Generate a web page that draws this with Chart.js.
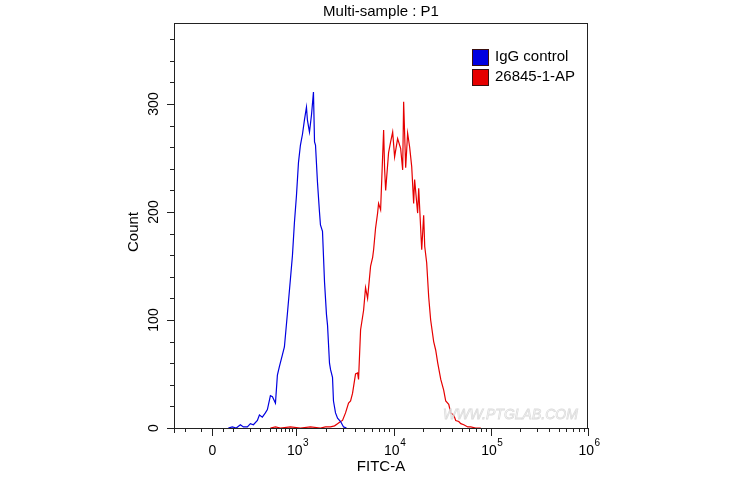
<!DOCTYPE html>
<html>
<head>
<meta charset="utf-8">
<script src="https://cdn.jsdelivr.net/npm/chart.js@4"></script>
<style>
  html, body { margin: 0; padding: 0; background: #fff; }
  #wrap { width: 730px; height: 478px; }
</style>
</head>
<body>
<div id="wrap"><canvas id="flow"></canvas></div>
<script>
// x values are display positions in decades (10^3 -> 3, 10^4 -> 4 ...); "0" sits at 2.134 on the biexponential part
var igPos = [2.299, 2.340, 2.381, 2.423, 2.454, 2.495, 2.526, 2.557, 2.598, 2.619, 2.649, 2.680, 2.701, 2.732,
  2.753, 2.784, 2.804, 2.825, 2.856, 2.876, 2.907, 2.938, 2.959, 2.979, 3.000, 3.021, 3.041, 3.062, 3.082,
  3.103, 3.113, 3.134, 3.155, 3.175, 3.186, 3.196, 3.216, 3.237, 3.247, 3.268, 3.289, 3.309, 3.320, 3.340,
  3.351, 3.371, 3.381, 3.402, 3.423, 3.454, 3.485, 3.515];
var igCount = [0, 1, 0, 3, 1, 1, 4, 3, 7, 12, 10, 14, 17, 30,
  29, 23, 49, 57, 68, 75, 106, 138, 160, 190, 215, 246, 262, 272, 285,
  297, 285, 274, 290, 311, 265, 262, 228, 200, 188, 182, 135, 105, 95, 60,
  54, 47, 25, 14, 9, 6, 1, 0];

var apPos = [2.732, 2.784, 2.835, 2.938, 3.041, 3.144, 3.247, 3.299, 3.351, 3.392, 3.423, 3.454, 3.474, 3.505,
  3.536, 3.557, 3.577, 3.608, 3.629, 3.639, 3.660, 3.691, 3.711, 3.732, 3.763, 3.784, 3.794, 3.814, 3.835,
  3.845, 3.866, 3.897, 3.907, 3.918, 3.948, 3.969, 3.990, 4.010, 4.041, 4.072, 4.093, 4.103, 4.124, 4.144,
  4.165, 4.186, 4.206, 4.216, 4.247, 4.258, 4.289, 4.309, 4.320, 4.340, 4.361, 4.381, 4.412, 4.433, 4.454,
  4.485, 4.515, 4.536, 4.567, 4.588, 4.619, 4.639, 4.670, 4.691, 4.722, 4.763, 4.794, 4.845, 4.897];
var apCount = [0, 1, 0, 1, 0, 1, 0, 1, 1, 2, 4, 6, 7, 14,
  23, 25, 32, 50, 51, 45, 91, 109, 130, 120, 150, 158, 165, 185, 199,
  208, 202, 276, 240, 220, 255, 265, 274, 251, 268, 259, 239, 302, 241, 273,
  260, 242, 208, 230, 199, 222, 165, 197, 168, 153, 121, 100, 80, 72, 60,
  45, 35, 25, 22, 14, 12, 7, 6, 4, 3, 1, 1, 0, 0];

var seriesNames = ['IgG control', '26845-1-AP'];
var seriesColors = ['#0000e0', '#e60000'];

var xMajorPos = [2.134, 3, 4, 5, 6];
var xMajorText = [['0', ''], ['10', '3'], ['10', '4'], ['10', '5'], ['10', '6']];
var xMinorLow = [1.856, 2.021, 2.247, 2.351, 2.526, 2.629, 2.732, 2.794, 2.845, 2.887, 2.928, 2.959];
var yMajor = [0, 100, 200, 300];
var yMinorStep = 20;

function toPoints(xs, ys) {
  return xs.map(function (x, i) { return { x: x, y: ys[i] }; });
}

var FONT = '"Liberation Sans", Arial, sans-serif';

var flowDecor = {
  id: 'flowDecor',
  afterDraw: function (chart) {
    var ctx = chart.ctx, a = chart.chartArea;
    var xs = chart.scales.x, ys = chart.scales.y;
    ctx.save();

    // watermark
    ctx.font = 'italic 14px ' + FONT;
    ctx.strokeStyle = '#dcdcdc';
    ctx.lineWidth = 0.8;
    ctx.textAlign = 'left';
    ctx.textBaseline = 'alphabetic';
    ctx.strokeText('WWW.PTGLAB.COM', 443, 419);

    // frame
    ctx.strokeStyle = '#222';
    ctx.lineWidth = 1;
    ctx.strokeRect(a.left + 0.5, a.top + 0.5, a.right - a.left - 1, a.bottom - a.top);

    // y ticks
    ctx.beginPath();
    for (var v = 0; v <= ys.max; v += yMinorStep) {
      var py = Math.round(ys.getPixelForValue(v)) + 0.5;
      var len = yMajor.indexOf(v) >= 0 ? 7 : 4;
      ctx.moveTo(a.left, py);
      ctx.lineTo(a.left - len, py);
    }
    // x ticks
    var minors = xMinorLow.slice();
    for (var k = 3; k < 6; k++)
      for (var m = 2; m <= 9; m++) minors.push(k + Math.log10(m));
    minors.forEach(function (d) {
      var px = Math.round(xs.getPixelForValue(d)) + 0.5;
      ctx.moveTo(px, a.bottom); ctx.lineTo(px, a.bottom + 4);
    });
    xMajorPos.forEach(function (d) {
      var px = Math.round(xs.getPixelForValue(d)) + 0.5;
      ctx.moveTo(px, a.bottom); ctx.lineTo(px, a.bottom + 8);
    });
    ctx.moveTo(a.left + 0.5, a.bottom); ctx.lineTo(a.left + 0.5, a.bottom + 5);
    ctx.stroke();

    ctx.fillStyle = '#000';
    // y tick labels (rotated)
    ctx.font = '14px ' + FONT;
    ctx.textAlign = 'center';
    ctx.textBaseline = 'middle';
    yMajor.forEach(function (v) {
      ctx.save();
      ctx.translate(154, ys.getPixelForValue(v));
      ctx.rotate(-Math.PI / 2);
      ctx.fillText(String(v), 0, 0);
      ctx.restore();
    });

    // x tick labels with superscripts
    xMajorPos.forEach(function (d, i) {
      var px = xs.getPixelForValue(d);
      var base = xMajorText[i][0], sup = xMajorText[i][1];
      ctx.font = '14px ' + FONT;
      var wb = ctx.measureText(base).width;
      ctx.font = '10px ' + FONT;
      var ws = sup ? ctx.measureText(sup).width : 0;
      var x0 = px - (wb + ws) / 2 + (sup ? 1 : 0);
      ctx.textAlign = 'left';
      ctx.textBaseline = 'alphabetic';
      ctx.font = '14px ' + FONT;
      ctx.fillText(base, x0, 455);
      if (sup) {
        ctx.font = '10px ' + FONT;
        ctx.fillText(sup, x0 + wb + 0.5, 446);
      }
    });

    // axis titles and title
    ctx.font = '15px ' + FONT;
    ctx.textAlign = 'center';
    ctx.textBaseline = 'middle';
    ctx.fillText('FITC-A', (a.left + a.right) / 2, 467);
    ctx.fillText('Multi-sample : P1', (a.left + a.right) / 2, 12);
    ctx.save();
    ctx.translate(134, 232);
    ctx.rotate(-Math.PI / 2);
    ctx.fillText('Count', 0, 0);
    ctx.restore();

    // legend
    ctx.textAlign = 'left';
    ctx.textBaseline = 'middle';
    ctx.font = '15px ' + FONT;
    seriesNames.forEach(function (name, i) {
      var y0 = 49 + i * 20;
      ctx.fillStyle = seriesColors[i];
      ctx.fillRect(472, y0, 16, 16);
      ctx.strokeStyle = '#3a1010';
      ctx.strokeRect(472.5, y0 + 0.5, 16, 16);
      ctx.fillStyle = '#000';
      ctx.fillText(name, 495, y0 + 8);
    });
    ctx.restore();
  }
};

new Chart(document.getElementById('flow'), {
  type: 'line',
  data: {
    datasets: [
      { label: seriesNames[0], data: toPoints(igPos, igCount), borderColor: seriesColors[0], borderWidth: 1.2, pointRadius: 0, tension: 0 },
      { label: seriesNames[1], data: toPoints(apPos, apCount), borderColor: seriesColors[1], borderWidth: 1.2, pointRadius: 0, tension: 0 }
    ]
  },
  options: {
    responsive: true,
    maintainAspectRatio: false,
    animation: false,
    layout: { padding: { left: 0, right: 142, top: 23, bottom: 0 } },
    plugins: { legend: { display: false }, title: { display: false }, tooltip: { enabled: false } },
    scales: {
      x: {
        type: 'linear', min: 1.74, max: 6.0,
        ticks: { display: false }, grid: { display: false }, border: { display: false },
        afterFit: function (s) { s.height = 50; }
      },
      y: {
        min: 0, max: 375,
        ticks: { display: false }, grid: { display: false }, border: { display: false },
        afterFit: function (s) { s.width = 174; }
      }
    }
  },
  plugins: [flowDecor]
});
</script>
</body>
</html>
